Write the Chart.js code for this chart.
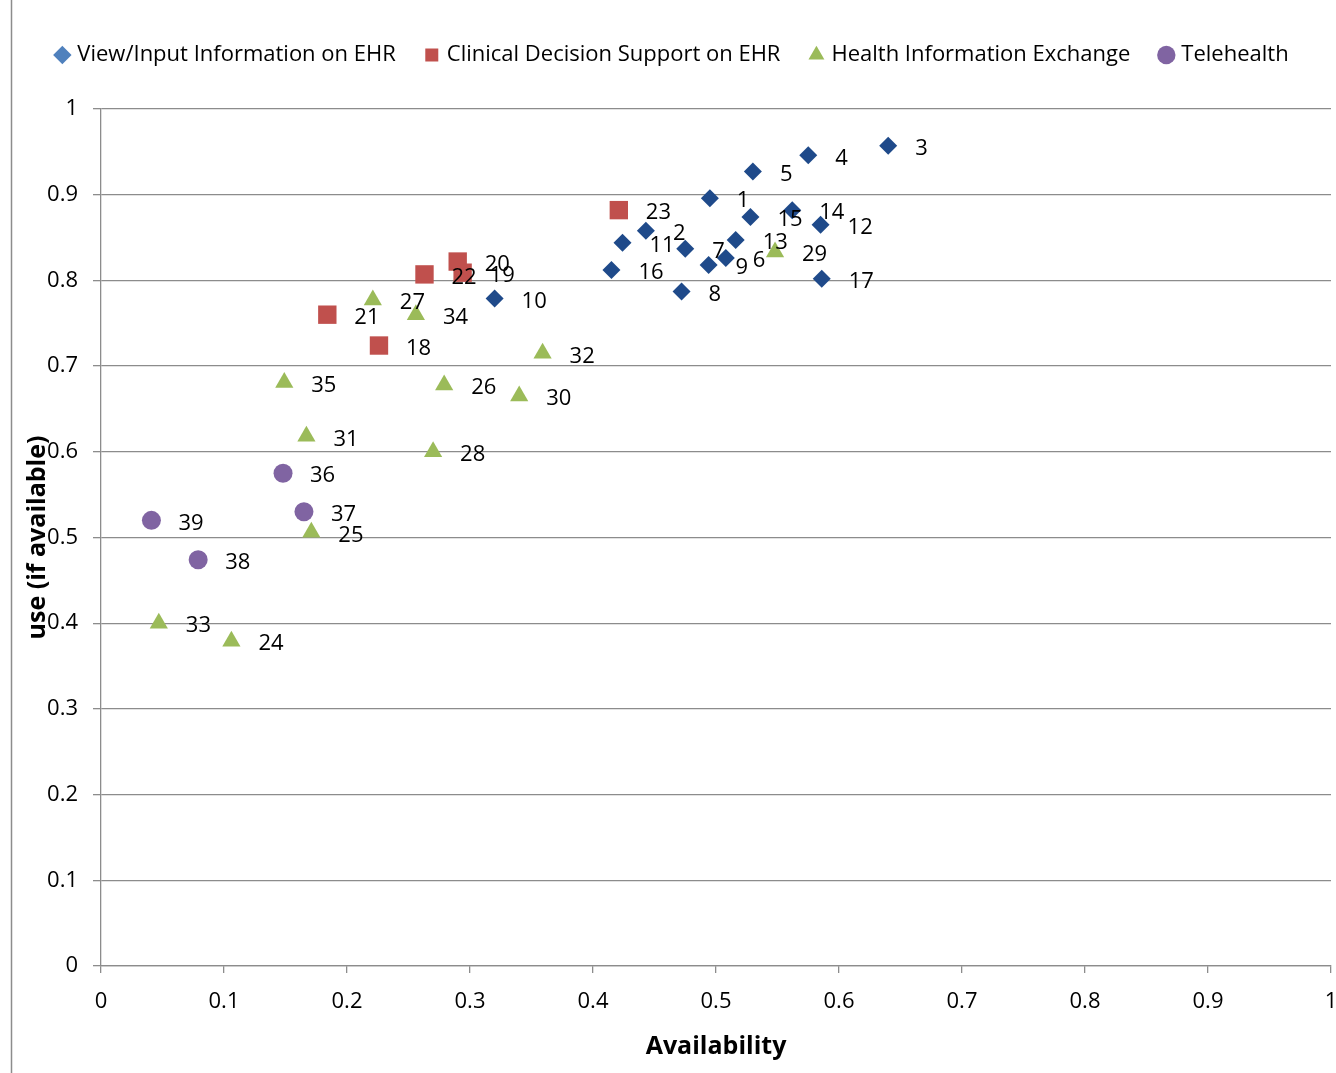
<!DOCTYPE html>
<html>
<head>
<meta charset="utf-8">
<script src="https://cdn.jsdelivr.net/npm/chart.js@4"></script>
<style>
  html, body { margin: 0; padding: 0; background: #fff; }
  #wrap { width: 1336px; height: 1073px; }
</style>
</head>
<body>
<div id="wrap"><canvas id="chart" width="1336" height="1073"></canvas></div>
<script>
(function () {
  'use strict';

  // View/Input Information on EHR
  var viewIds = [1, 2, 3, 4, 5, 6, 7, 8, 9, 10, 11, 12, 13, 14, 15, 16, 17];
  var viewX = [0.495, 0.443, 0.640, 0.575, 0.530, 0.508, 0.475, 0.472, 0.494, 0.320, 0.424, 0.585, 0.516, 0.562, 0.528, 0.415, 0.586];
  var viewY = [0.896, 0.858, 0.957, 0.946, 0.927, 0.826, 0.837, 0.787, 0.818, 0.779, 0.844, 0.865, 0.847, 0.882, 0.874, 0.812, 0.802];

  // Clinical Decision Support on EHR
  var cdsIds = [18, 19, 20, 21, 22, 23];
  var cdsX = [0.226, 0.294, 0.290, 0.184, 0.263, 0.421];
  var cdsY = [0.724, 0.809, 0.822, 0.760, 0.807, 0.882];

  // Health Information Exchange
  var hieIds = [24, 25, 26, 27, 28, 29, 30, 31, 32, 33, 34, 35];
  var hieX = [0.106, 0.171, 0.279, 0.221, 0.270, 0.548, 0.340, 0.167, 0.359, 0.047, 0.256, 0.149];
  var hieY = [0.379, 0.506, 0.678, 0.777, 0.600, 0.833, 0.665, 0.618, 0.715, 0.400, 0.760, 0.681];

  // Telehealth
  var telIds = [36, 37, 38, 39];
  var telX = [0.148, 0.165, 0.079, 0.041];
  var telY = [0.575, 0.530, 0.474, 0.520];

  var SERIES_NAMES = ['View/Input Information on EHR', 'Clinical Decision Support on EHR', 'Health Information Exchange', 'Telehealth'];
  var AXIS_TICKS = [0, 0.1, 0.2, 0.3, 0.4, 0.5, 0.6, 0.7, 0.8, 0.9, 1];
  var AXIS_LABELS = ['0', '0.1', '0.2', '0.3', '0.4', '0.5', '0.6', '0.7', '0.8', '0.9', '1'];

  var GRID = '#8c8c8c';
  var FONT = '"Open Sans", "Liberation Sans", sans-serif';

  function toPoints(xs, ys) {
    var pts = [];
    for (var i = 0; i < xs.length; i++) {
      pts.push({ x: xs[i], y: ys[i] });
    }
    return pts;
  }

  function series(label, ids, xs, ys, style, radius, color, legendColor) {
    return {
      label: label,
      ids: ids,
      legendColor: legendColor,
      data: toPoints(xs, ys),
      pointStyle: style,
      pointRadius: radius,
      pointHoverRadius: radius,
      pointBackgroundColor: color,
      pointBorderColor: color,
      pointBorderWidth: 0,
      backgroundColor: color,
      borderColor: color,
      showLine: false,
    };
  }

  var datasets = [
    series(SERIES_NAMES[0], viewIds, viewX, viewY, 'rectRot', 9, '#1f4a8a', '#4f81bd'),
    series(SERIES_NAMES[1], cdsIds, cdsX, cdsY, 'rect', 13, '#c0504d', '#c0504d'),
    series(SERIES_NAMES[2], hieIds, hieX, hieY, 'triangle', 10.5, '#9bbb59', '#9bbb59'),
    series(SERIES_NAMES[3], telIds, telX, telY, 'circle', 9.5, '#8064a2', '#8064a2'),
  ];

  function fixedTicks(scale) {
    scale.ticks = AXIS_TICKS.map(function (v) { return { value: v }; });
  }

  function tickText(value, index) {
    return AXIS_LABELS[index];
  }

  // numbers written to the right of every marker
  var pointLabels = {
    id: 'pointLabels',
    afterDatasetsDraw: function (chart) {
      var ctx = chart.ctx;
      ctx.save();
      ctx.font = '22px ' + FONT;
      ctx.fillStyle = '#000';
      ctx.textAlign = 'left';
      ctx.textBaseline = 'middle';
      chart.data.datasets.forEach(function (ds, i) {
        var meta = chart.getDatasetMeta(i);
        meta.data.forEach(function (pt, j) {
          ctx.fillText(String(ds.ids[j]), pt.x + 27, pt.y + 3);
        });
      });
      ctx.restore();
    },
  };

  // thin frame line on the left edge, plus extra room under the legend
  var frame = {
    id: 'frame',
    beforeInit: function (chart) {
      var fit = chart.legend.fit;
      chart.legend.fit = function () {
        fit.call(this);
        this.height += 33;
      };
    },
    beforeDraw: function (chart) {
      var ctx = chart.ctx;
      ctx.save();
      ctx.strokeStyle = GRID;
      ctx.lineWidth = 1.5;
      ctx.beginPath();
      ctx.moveTo(11.5, 0);
      ctx.lineTo(11.5, chart.height);
      ctx.stroke();
      ctx.restore();
    },
  };

  new Chart(document.getElementById('chart'), {
    type: 'scatter',
    data: { datasets: datasets },
    plugins: [pointLabels, frame],
    options: {
      responsive: false,
      animation: false,
      devicePixelRatio: 1,
      layout: { autoPadding: false, padding: { top: 12, left: 16, right: 5, bottom: 0 } },
      plugins: {
        tooltip: { enabled: false },
        legend: {
          position: 'top',
          labels: {
            usePointStyle: true,
            boxWidth: 8,
            boxHeight: 13,
            padding: 32,
            color: '#000',
            font: { size: 22, family: FONT },
            generateLabels: function (chart) {
              var items = Chart.defaults.plugins.legend.labels.generateLabels(chart);
              items.forEach(function (item, i) {
                var c = chart.data.datasets[i].legendColor;
                item.fillStyle = c;
                item.strokeStyle = c;
                item.lineWidth = 0;
              });
              return items;
            },
          },
        },
      },
      scales: {
        x: {
          type: 'linear',
          min: 0,
          max: 1,
          afterBuildTicks: fixedTicks,
          ticks: { color: '#000', padding: 16, font: { size: 22, family: FONT }, callback: tickText },
          grid: { drawOnChartArea: false, drawTicks: true, tickLength: 7, color: GRID, lineWidth: 1.3 },
          border: { color: GRID, width: 1.3 },
          title: {
            display: true,
            text: 'Availability',
            color: '#000',
            font: { size: 25, weight: 'bold', family: FONT },
            padding: { top: 0, bottom: 11 },
          },
          afterFit: function (scale) {
            scale.height = 107;
            scale.paddingRight = 0;
          },
        },
        y: {
          type: 'linear',
          min: 0,
          max: 1,
          afterBuildTicks: fixedTicks,
          ticks: { color: '#000', padding: 15, font: { size: 22, family: FONT }, callback: tickText },
          grid: { color: GRID, lineWidth: 1.3, tickLength: 8 },
          border: { color: GRID, width: 1.3 },
          title: {
            display: true,
            text: 'use (if available)',
            color: '#000',
            font: { size: 25, weight: 'bold', family: FONT },
            padding: { top: 7, bottom: 0 },
          },
          afterFit: function (scale) {
            scale.width = 85;
          },
        },
      },
    },
  });
})();
</script>
</body>
</html>
